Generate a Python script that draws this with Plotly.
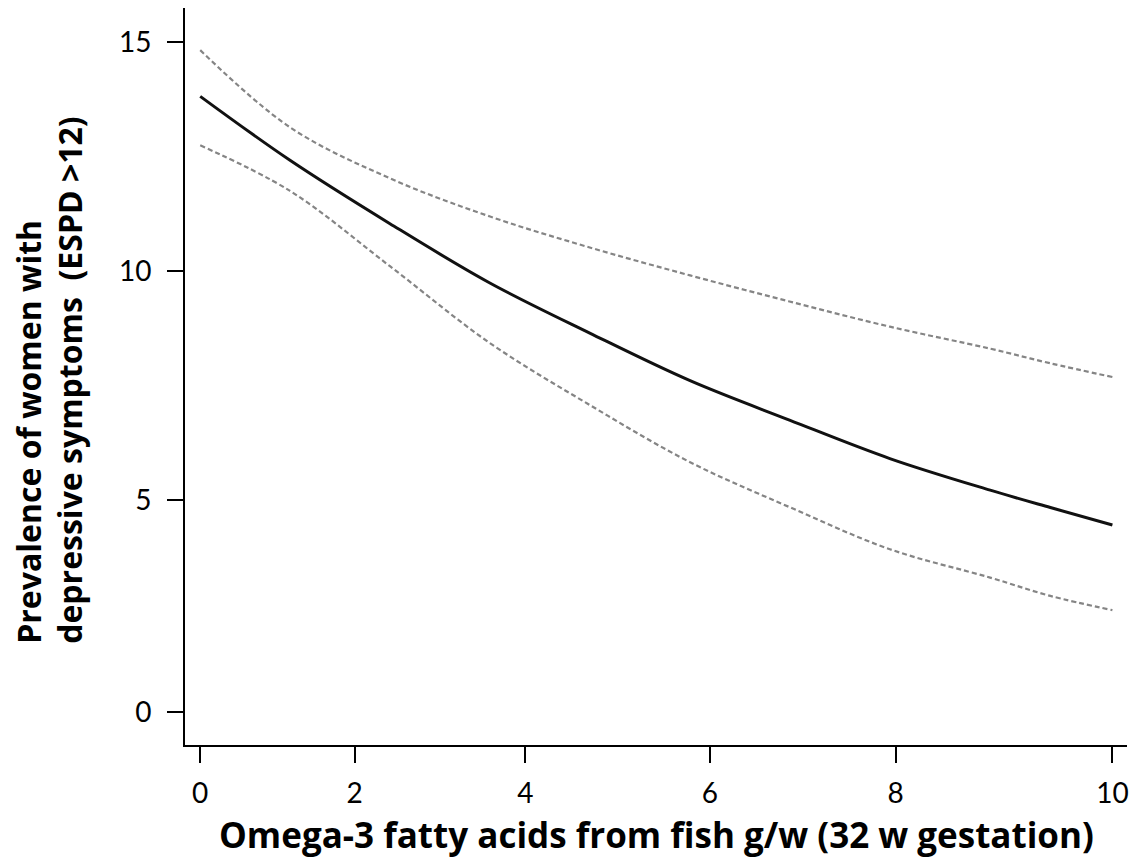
import plotly.graph_objects as go

# Omega-3 intake (g/week) at which the fitted curve and its bounds were read
omega3 = [0.0, 0.98, 2.08, 3.17, 4.27, 5.37, 6.46, 7.56, 8.66, 9.32, 10.0]

# Fitted prevalence (%) with lower / upper confidence bounds
prevalence = [13.81, 12.42, 11.03, 9.74, 8.64, 7.60, 6.74, 5.90, 5.21, 4.83, 4.45]
upper_ci = [14.82, 13.14, 12.02, 11.19, 10.51, 9.90, 9.33, 8.78, 8.30, 7.98, 7.68]
lower_ci = [12.74, 11.75, 10.10, 8.43, 7.07, 5.82, 4.84, 3.92, 3.30, 2.90, 2.59]

# Tick labels
x_tick_text = ["0", "2", "4", "6", "8", "10"]
y_tick_text = ["0", "5", "10", "15"]

# Where the tick marks sit on each axis
x_tick_pos = [0.0, 1.693, 3.565, 5.587, 7.624, 10.0]
y_tick_pos = [0.36, 5, 10, 15]

TICK_FONT = "Lato"
TITLE_FONT = "Open Sans"

fig = go.Figure()

ci_style = dict(color="#858585", width=2.2, dash="5px,3px")
fig.add_trace(go.Scatter(x=omega3, y=upper_ci, mode="lines",
                         line=dict(shape="spline", **ci_style), hoverinfo="skip"))
fig.add_trace(go.Scatter(x=omega3, y=lower_ci, mode="lines",
                         line=dict(shape="spline", **ci_style), hoverinfo="skip"))
fig.add_trace(go.Scatter(x=omega3, y=prevalence, mode="lines",
                         line=dict(color="#111111", width=3, shape="spline")))

axis_common = dict(
    showgrid=False, zeroline=False, showline=True, linecolor="black", linewidth=2,
    ticks="outside", tickcolor="black", tickwidth=1.5, ticklen=16,
    tickfont=dict(family=TICK_FONT, size=28, color="black"),
)

fig.update_xaxes(range=[-0.167, 10.16], tickmode="array",
                 tickvals=x_tick_pos, ticktext=x_tick_text,
                 ticklabelstandoff=6, **axis_common)
fig.update_yaxes(range=[-0.356, 15.74], tickmode="array",
                 tickvals=y_tick_pos, ticktext=y_tick_text,
                 ticklabelstandoff=10, **axis_common)

fig.add_annotation(
    text="<b>Omega-3 fatty acids from fish g/w (32 w gestation)</b>",
    xref="paper", yref="paper", x=0.5, y=-0.122, xanchor="center", yanchor="middle",
    showarrow=False, font=dict(family=TITLE_FONT, size=35, color="black"),
)
fig.add_annotation(
    text="<b>Prevalence of women with<br>depressive symptoms \u00a0(ESPD >12)</b>",
    xref="paper", yref="paper", x=-0.1435, y=0.4953, xanchor="center", yanchor="middle",
    textangle=-90, align="left", showarrow=False,
    font=dict(family=TITLE_FONT, size=32, color="black"),
)

fig.update_layout(
    width=1141, height=863,
    margin=dict(l=185, r=14, t=8, b=118),
    paper_bgcolor="white", plot_bgcolor="white",
    showlegend=False,
)

fig.write_html("out.html")
